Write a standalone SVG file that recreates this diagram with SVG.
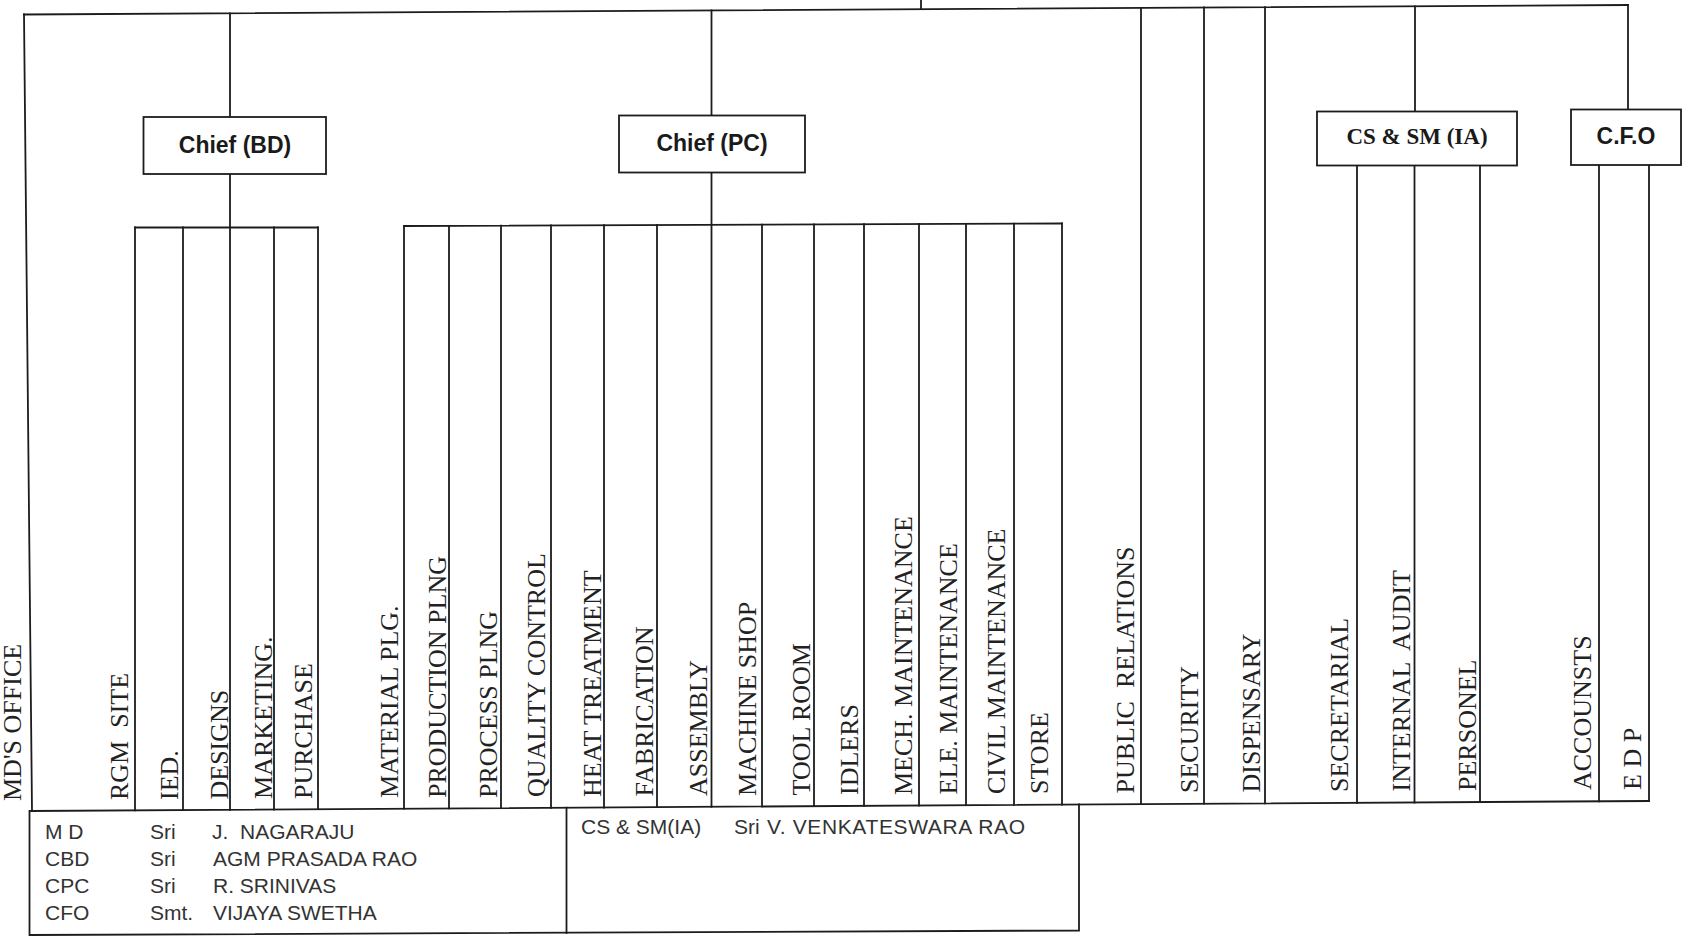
<svg xmlns="http://www.w3.org/2000/svg" width="1686" height="938" viewBox="0 0 1686 938">
<style>
.ln{stroke:#1c1c1c;stroke-width:1.8;fill:none;stroke-linecap:square}
.bx{fill:#fff;stroke:#1c1c1c;stroke-width:1.8}
.hd{font-family:"Liberation Sans",Arial,sans-serif;font-weight:bold;font-size:23px;fill:#1a1a1a;text-anchor:middle}
.hs{font-family:"Liberation Serif","Times New Roman",serif;font-weight:bold;font-size:23px;fill:#1a1a1a;text-anchor:middle}
.vl{font-family:"Liberation Serif","Times New Roman",serif;font-size:26px;fill:#222;white-space:pre}
.lg{font-family:"Liberation Sans",Arial,sans-serif;font-size:21px;fill:#333;white-space:pre}
</style>
<rect width="1686" height="938" fill="#fff"/>
<g id="connectors">
  <path class="ln" d="M24,14.5 L1628,5"/>
  <path class="ln" d="M921,0 L921,9.2"/>
  <path class="ln" d="M24,14.5 L32,811"/>
  <path class="ln" d="M230,13.3 L230,117 M230,174 L230,809.8"/>
  <path class="ln" d="M135,227.5 L318,227.5"/>
  <path class="ln" d="M135,227.5 L135,810.4 M183,227.5 L183,810.1 M274,227.5 L274,809.5 M318,227.5 L318,809.2"/>
  <path class="ln" d="M711.5,10.4 L711.5,115.5 M711.5,172.5 L711.5,806.8"/>
  <path class="ln" d="M404,226 L1062,223.5"/>
  <path class="ln" d="M404,226 L404,808.7 M449,225.8 L449,808.4 M501,225.6 L501,808.1 M551,225.4 L551,807.8 M604,225.2 L604,807.5 M657,225 L657,807.1 M762,224.6 L762,806.5 M814,224.4 L814,806.2 M864,224.2 L864,805.8 M919,224 L919,805.5 M966,223.8 L966,805.2 M1014,223.7 L1014,804.9 M1062,223.5 L1062,804.6"/>
  <path class="ln" d="M1141,7.9 L1141,804.1 M1204,7.5 L1204,803.7 M1265,7.2 L1265,803.4"/>
  <path class="ln" d="M1415,6.3 L1415,111.5"/>
  <path class="ln" d="M1357,165.5 L1357,802.8 M1414.5,165.5 L1414.5,802.5 M1480,165.5 L1480,802"/>
  <path class="ln" d="M1628,5 L1628,109.5"/>
  <path class="ln" d="M1599,165 L1599,801.3 M1649,165 L1649,801"/>
  <path class="ln" d="M30,811 L1649,801"/>
</g>
<g id="legend">
  <path class="ln" d="M29.5,811 L29.5,935 L1079,930.5 L1079,804.5"/>
  <path class="ln" d="M566.5,807.7 L566.5,933"/>
  <text class="lg" x="45" y="839">M D</text>
  <text class="lg" x="150" y="839">Sri</text>
  <text class="lg" x="212" y="839" xml:space="preserve">J.  NAGARAJU</text>
  <text class="lg" x="45" y="866">CBD</text>
  <text class="lg" x="150" y="866">Sri</text>
  <text class="lg" x="213" y="866">AGM PRASADA RAO</text>
  <text class="lg" x="45" y="893">CPC</text>
  <text class="lg" x="150" y="893">Sri</text>
  <text class="lg" x="213" y="893">R. SRINIVAS</text>
  <text class="lg" x="45" y="920">CFO</text>
  <text class="lg" x="150" y="920">Smt.</text>
  <text class="lg" x="213" y="920">VIJAYA SWETHA</text>
  <text class="lg" x="581" y="834">CS &amp; SM(IA)</text>
  <text class="lg" x="734" y="834">Sri</text>
  <text class="lg" x="767" y="834" textLength="258">V. VENKATESWARA RAO</text>
</g>
<g id="chief-bd"><rect class="bx" x="143.5" y="117" width="182.5" height="57"/><text class="hd" x="235" y="153">Chief (BD)</text></g>
<g id="chief-pc"><rect class="bx" x="619" y="115.5" width="186" height="57"/><text class="hd" x="712" y="151">Chief (PC)</text></g>
<g id="cs-sm-ia"><rect class="bx" x="1317" y="111.5" width="200" height="54"/><text class="hs" x="1417" y="144">CS &amp; SM (IA)</text></g>
<g id="cfo"><rect class="bx" x="1571" y="109.5" width="110" height="55.5"/><text class="hd" x="1626" y="144">C.F.O</text></g>
<g id="md-office"><text class="vl" transform="translate(21,801) rotate(-90)">MD'S OFFICE</text></g>
<g id="rgm-site"><text class="vl" xml:space="preserve" transform="translate(128,800) rotate(-90)">RGM  SITE</text></g>
<g id="ied"><text class="vl" transform="translate(178,800) rotate(-90)">IED.</text></g>
<g id="designs"><text class="vl" transform="translate(228,799.5) rotate(-90)">DESIGNS</text></g>
<g id="marketing"><text class="vl" transform="translate(272,799) rotate(-90)">MARKETING.</text></g>
<g id="purchase"><text class="vl" transform="translate(312,799) rotate(-90)">PURCHASE</text></g>
<g id="material-plg"><text class="vl" transform="translate(398,798) rotate(-90)">MATERIAL PLG.</text></g>
<g id="production-plng"><text class="vl" transform="translate(446,798) rotate(-90)">PRODUCTION PLNG</text></g>
<g id="process-plng"><text class="vl" transform="translate(497,798) rotate(-90)">PROCESS PLNG</text></g>
<g id="quality-control"><text class="vl" transform="translate(545,797) rotate(-90)">QUALITY CONTROL</text></g>
<g id="heat-treatment"><text class="vl" transform="translate(601,797) rotate(-90)">HEAT TREATMENT</text></g>
<g id="fabrication"><text class="vl" transform="translate(653,796.5) rotate(-90)">FABRICATION</text></g>
<g id="assembly"><text class="vl" transform="translate(707,796) rotate(-90)">ASSEMBLY</text></g>
<g id="machine-shop"><text class="vl" transform="translate(756,796) rotate(-90)">MACHINE SHOP</text></g>
<g id="tool-room"><text class="vl" transform="translate(810,795.5) rotate(-90)">TOOL ROOM</text></g>
<g id="idlers"><text class="vl" transform="translate(858,795) rotate(-90)">IDLERS</text></g>
<g id="mech-maintenance"><text class="vl" transform="translate(912,795) rotate(-90)">MECH. MAINTENANCE</text></g>
<g id="ele-maintenance"><text class="vl" transform="translate(957,794.5) rotate(-90)">ELE. MAINTENANCE</text></g>
<g id="civil-maintenance"><text class="vl" transform="translate(1005,794) rotate(-90)">CIVIL MAINTENANCE</text></g>
<g id="store"><text class="vl" transform="translate(1048,794) rotate(-90)">STORE</text></g>
<g id="public-relations"><text class="vl" xml:space="preserve" transform="translate(1134,793.5) rotate(-90)">PUBLIC  RELATIONS</text></g>
<g id="security"><text class="vl" transform="translate(1198,793) rotate(-90)">SECURITY</text></g>
<g id="dispensary"><text class="vl" transform="translate(1260,792.5) rotate(-90)">DISPENSARY</text></g>
<g id="secretarial"><text class="vl" transform="translate(1348,792) rotate(-90)">SECRETARIAL</text></g>
<g id="internal-audit"><text class="vl" xml:space="preserve" transform="translate(1410,791.5) rotate(-90)">INTERNAL  AUDIT</text></g>
<g id="personel"><text class="vl" transform="translate(1476,791) rotate(-90)">PERSONEL</text></g>
<g id="accounsts"><text class="vl" transform="translate(1591,790) rotate(-90)">ACCOUNSTS</text></g>
<g id="edp"><text class="vl" transform="translate(1641,790) rotate(-90)">E D P</text></g>
</svg>
